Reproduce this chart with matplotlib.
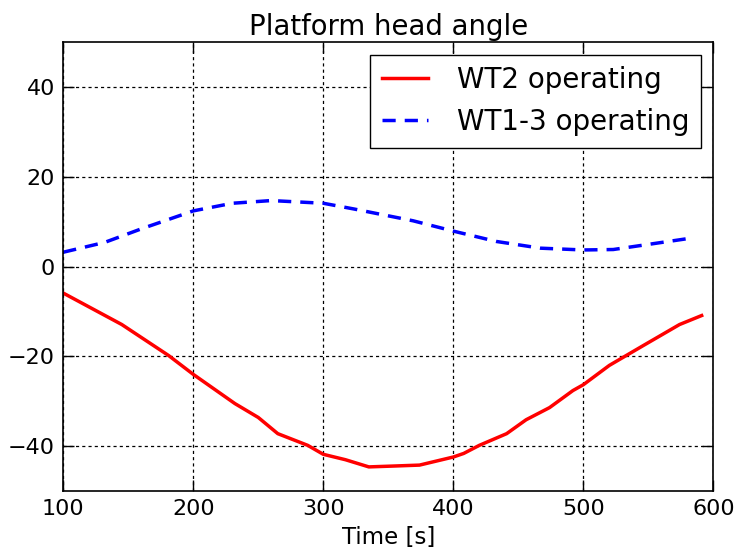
import matplotlib
matplotlib.use("Agg")
import matplotlib.pyplot as plt

# Data
t_wt2 = [100, 145, 181, 200, 232, 250, 265, 288, 300, 317, 335, 355, 374, 400,
         408, 420, 441, 456, 474, 492, 500, 520, 546, 574, 591]
y_wt2 = [-5.9, -12.9, -19.8, -24.0, -30.5, -33.6, -37.2, -39.8, -41.8, -43.0,
         -44.6, -44.4, -44.2, -42.4, -41.6, -39.8, -37.2, -34.1, -31.4, -27.6,
         -26.3, -22.0, -17.6, -12.9, -10.9]

t_wt13 = [100, 132, 160, 200, 230, 260, 300, 324, 350, 369, 400, 433, 467,
          500, 523, 549, 582]
y_wt13 = [3.2, 5.4, 8.4, 12.4, 14.1, 14.7, 14.1, 12.8, 11.3, 10.2, 7.9, 5.6,
          4.1, 3.7, 3.8, 4.9, 6.3]

labels = ["WT2 operating", "WT1-3 operating"]
xticks = [100, 200, 300, 400, 500, 600]
yticks = [-40, -20, 0, 20, 40]

plt.rcParams['font.family'] = ['DejaVu Sans']
fig = plt.figure(figsize=(7.4, 5.5), dpi=100, facecolor='white')
ax = fig.add_axes([0.0855, 0.107, 0.964 - 0.0855, 0.9236 - 0.107])

ax.plot(t_wt2, y_wt2, color='red', lw=2.5, label=labels[0])
ax.plot(t_wt13, y_wt13, color='blue', lw=2.5, linestyle=(0, (3.8, 2.6)),
        label=labels[1])

ax.set_xlim(100, 600)
ax.set_ylim(-50, 50)
ax.set_xticks(xticks)
ax.set_yticks(yticks)
ax.grid(True, color='black', linestyle=(0, (2.5, 2.5)), linewidth=0.9)
ax.tick_params(direction='in', length=8, width=1, top=True, right=True,
               labelsize=16, pad=6)
for s in ax.spines.values():
    s.set_linewidth(1.2)

ax.set_title("Platform head angle", fontsize=19.8, pad=5)
ax.set_xlabel("Time [s]", fontsize=16.5, labelpad=4.5)

leg = ax.legend(loc='upper right', fontsize=20, handlelength=1.65,
                handletextpad=1.05, borderpad=0.42, labelspacing=0.5,
                fancybox=False, framealpha=1, borderaxespad=0.45)
leg.get_frame().set_edgecolor('black')
leg.get_frame().set_linewidth(1.0)

fig.savefig("out.png", dpi=100, facecolor='white')
